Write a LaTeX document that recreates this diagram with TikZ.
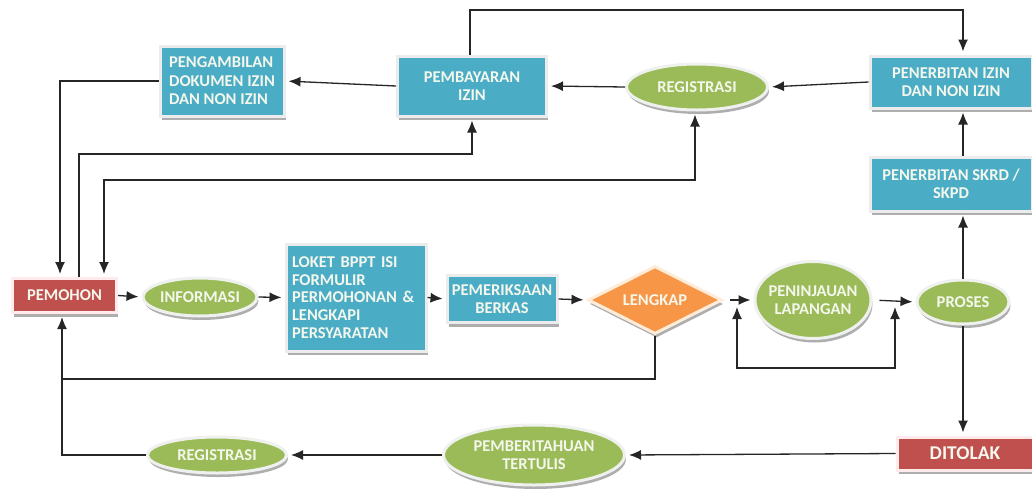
\documentclass[tikz,border=0pt]{standalone}
\usepackage{fontspec}
\setmainfont{Carlito}
\usetikzlibrary{arrows.meta,shapes.geometric,shadows}
\definecolor{cblue}{HTML}{4BACC6}
\definecolor{cgreen}{HTML}{9BBB59}
\definecolor{cred}{HTML}{C0504D}
\definecolor{corange}{HTML}{F79646}
\definecolor{ctext}{HTML}{F4F7EC}
\tikzset{
  base/.style={text=ctext, font=\bfseries\fontsize{16.5}{18.5}\selectfont, inner sep=2pt,
    drop shadow={shadow xshift=1.5pt, shadow yshift=-4pt, fill=gray!70, opacity=0.9}},
  bbox/.style={base, rectangle, fill=cblue, draw=gray!15, line width=3pt, align=center},
  rbox/.style={base, rectangle, fill=cred, draw=red!8, line width=3pt, align=center},
  gell/.style={base, ellipse, fill=cgreen, draw=green!6!gray!12, line width=3pt, align=center, inner xsep=-14pt, inner ysep=-5pt},
  odia/.style={base, diamond, aspect=2, fill=corange, draw=orange!15, line width=3pt, inner xsep=-6pt, inner ysep=-4pt},
  arr/.style={draw=black!85, line width=1.3pt, -{Latex[length=12pt,width=10pt]}, shorten >=3pt},
  arrb/.style={draw=black!85, line width=1.3pt, {Latex[length=12pt,width=10pt]}-{Latex[length=12pt,width=10pt]}, shorten >=3pt, shorten <=3pt},
  ln/.style={draw=black!85, line width=1.3pt}
}
\begin{document}
\begin{tikzpicture}[x=1pt,y=-1pt]
\useasboundingbox[fill=white] (0,0) rectangle (1032,490);
% nodes
\node[bbox, minimum width=124, minimum height=70, align=left] (peng) at (222,81) {PENGAMBILAN\\DOKUMEN IZIN\\DAN NON IZIN};
\node[bbox, minimum width=149, minimum height=60] (pemb) at (472,86) {PEMBAYARAN\\IZIN};
\node[gell, minimum width=141, minimum height=46] (reg1) at (697,87) {REGISTRASI};
\node[bbox, minimum width=162, minimum height=52] (penizin) at (951,82) {PENERBITAN IZIN\\DAN NON IZIN};
\node[bbox, minimum width=162, minimum height=54] (skrd) at (951,184) {PENERBITAN SKRD /\\SKPD};
\node[rbox, minimum width=104, minimum height=34] (pemohon) at (64.5,295.5) {PEMOHON};
\node[gell, minimum width=114, minimum height=38] (info) at (200,297) {INFORMASI};
\node[bbox, minimum width=140, minimum height=107, align=left, text width=128, font=\bfseries\fontsize{16.5}{17.7}\selectfont] (loket) at (356,297.5) {LOKET BPPT ISI\\FORMULIR\\PERMOHONAN \&\\LENGKAPI\\PERSYARATAN};
\node[bbox, minimum width=110, minimum height=47] (periksa) at (502,299) {PEMERIKSAAN\\BERKAS};
\node[odia, minimum width=134, minimum height=68] (lengkap) at (655,300) {LENGKAP};
\node[gell, minimum width=116, minimum height=77] (penin) at (813,300) {PENINJAUAN\\LAPANGAN};
\node[gell, minimum width=92, minimum height=44] (proses) at (963,302) {PROSES};
\node[rbox, minimum width=136, minimum height=33, font=\bfseries\fontsize{19.5}{22}\selectfont] (tolak) at (965,453.5) {DITOLAK};
\node[gell, minimum width=181, minimum height=60] (pembt) at (534,455) {PEMBERITAHUAN\\TERTULIS};
\node[gell, minimum width=139, minimum height=36] (reg2) at (217,455) {REGISTRASI};
% helper coordinates
\coordinate (top) at (0,10);
\coordinate (ya) at (0,154);
\coordinate (yb) at (0,180);
\coordinate (j) at (62,379);
\coordinate (la) at (737,304);
\coordinate (lc) at (737,368);
\coordinate (ld) at (895,368);
\coordinate (lb) at (895,304);
% connectors
\draw[arr] ([xshift=-2]pemb.north) -- ([xshift=-2]pemb.north |- top) -| (proses.north |- penizin.north);
\draw[arr] (penizin.west) -- (reg1.east);
\draw[arr] (reg1.west) -- (pemb.east);
\draw[arr] (pemb.west) -- (peng.east);
\draw[arr] (peng.west) -| ([xshift=-4.5]pemohon.north);
\draw[arr] ([xshift=14.5]pemohon.north) -- ([xshift=14.5]pemohon.north |- ya) -| (pemb.south);
\draw[arrb] ([xshift=39.5]pemohon.north) -- ([xshift=39.5]pemohon.north |- yb) -| ([xshift=-2]reg1.south);
\draw[arr] (pemohon.east) -- (info.west);
\draw[arr] (info.east) -- (loket.west);
\draw[arr] (loket.east) -- (periksa.west);
\draw[arr] (periksa.east) -- (lengkap.west);
\draw[arr, shorten <=6pt] (lengkap.east) -- (penin.west);
\draw[arrb] (la) -- (lc) -- (ld) -- (lb);
\draw[arr, shorten <=7pt] (penin.east) -- (proses.west);
\draw[arr] (proses.north) -- (proses.north |- skrd.south);
\draw[arr] (proses.north |- skrd.north) -- (proses.north |- penizin.south);
\draw[arr] (proses.south) -- (proses.south |- tolak.north);
\draw[arr] (tolak.west) -- (pembt.east);
\draw[arr] (pembt.west) -- (reg2.east);
\draw[arr] (reg2.west) -| ([xshift=-2.5]pemohon.south);
\draw[ln] (lengkap.south) |- (j);
\end{tikzpicture}
\end{document}
